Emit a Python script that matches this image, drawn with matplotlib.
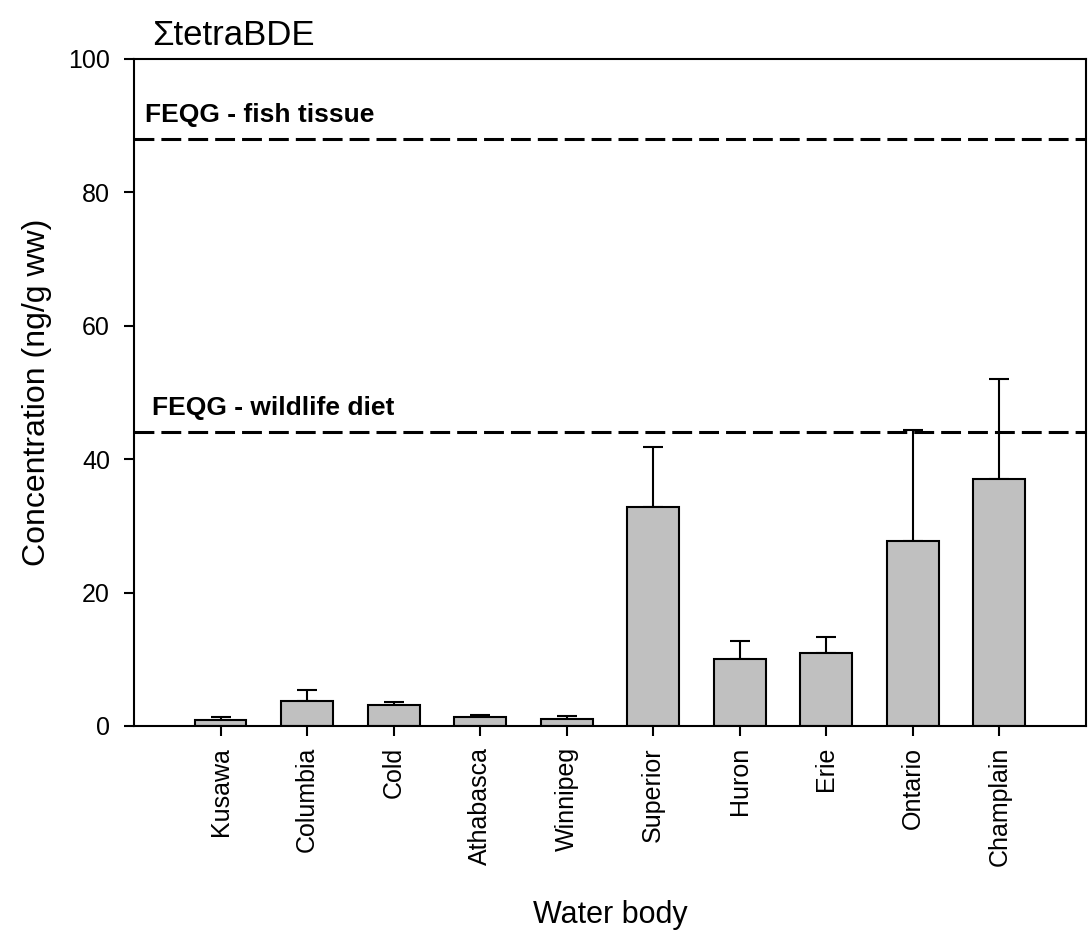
import numpy as np
import matplotlib
matplotlib.use("Agg")
import matplotlib.pyplot as plt

plt.rcParams['font.family'] = ['Liberation Sans', 'DejaVu Sans']

# data
lakes = ["Kusawa", "Columbia", "Cold", "Athabasca", "Winnipeg",
         "Superior", "Huron", "Erie", "Ontario", "Champlain"]
conc = [0.9, 3.7, 3.1, 1.3, 1.1, 32.9, 10.0, 10.9, 27.7, 37.1]
err = [0.4, 1.7, 0.5, 0.4, 0.4, 8.9, 2.8, 2.4, 16.7, 14.9]

feqg_fish = 88
feqg_wildlife = 44

fig = plt.figure(figsize=(10.91, 9.33), dpi=100)
ax = fig.add_axes([0.1228, 0.2219, 0.8726, 0.7149])

x = np.arange(len(lakes))
ax.bar(x, conc, width=0.6, color="#c0c0c0", edgecolor="black", linewidth=1.5, zorder=2)
ax.errorbar(x, conc, yerr=[np.zeros(len(err)), err], fmt="none", ecolor="black",
            elinewidth=1.5, capsize=7.5, capthick=1.5, zorder=1)

# guideline lines
ax.axhline(feqg_fish, color="black", lw=2.2, dashes=(6.5, 2.3), zorder=3)
ax.axhline(feqg_wildlife, color="black", lw=2.2, dashes=(6.5, 2.3), zorder=3)
ax.text(-0.87, 90.6, "FEQG - fish tissue", fontsize=19, fontweight="bold")
ax.text(-0.79, 46.6, "FEQG - wildlife diet", fontsize=19, fontweight="bold")

ax.set_xlim(-1, 10)
ax.set_ylim(0, 100)
ax.set_yticks([0, 20, 40, 60, 80, 100])
ax.set_xticks(x)
ax.set_xticklabels(lakes, rotation=90)
ax.tick_params(axis="both", direction="out", length=7.2, width=1.5, labelsize=18)
ax.tick_params(axis="x", pad=8)
ax.tick_params(axis="y", pad=10)
for s in ax.spines.values():
    s.set_linewidth(1.5)

ax.set_xlabel("Water body", fontsize=22, labelpad=24)
ax.set_ylabel("Concentration (ng/g ww)", fontsize=23, labelpad=12)
fig.text(152 / 1091, 1 - 45 / 933, "\u03a3tetraBDE", fontsize=25)

fig.savefig("out.png", dpi=100)
